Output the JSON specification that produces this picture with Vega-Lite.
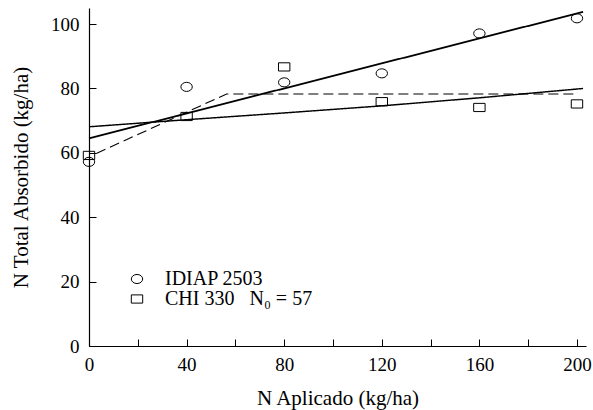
{
  "$schema": "https://vega.github.io/schema/vega-lite/v6.json",
  "width": 497,
  "height": 338,
  "autosize": "none",
  "padding": {"left": 89, "top": 8, "right": 7, "bottom": 64},
  "background": "white",
  "config": {
    "view": {"stroke": null},
    "font": "Times New Roman, Liberation Serif, serif",
    "axis": {
      "grid": false,
      "labelFlush": false,
      "domainColor": "black",
      "domainWidth": 1.2,
      "tickColor": "black",
      "tickWidth": 1,
      "labelColor": "black",
      "labelFont": "Times New Roman, Liberation Serif, serif",
      "labelFontSize": 19,
      "titleFont": "Times New Roman, Liberation Serif, serif",
      "titleFontSize": 21,
      "titleFontWeight": "normal",
      "titleColor": "black"
    },
    "legend": {
      "labelFont": "Times New Roman, Liberation Serif, serif",
      "labelFontSize": 20,
      "labelColor": "black"
    }
  },
  "datasets": {
    "points": [
      {"n": 0, "total": 57.2, "variety": "IDIAP 2503"},
      {"n": 40, "total": 80.5, "variety": "IDIAP 2503"},
      {"n": 80, "total": 81.9, "variety": "IDIAP 2503"},
      {"n": 120, "total": 84.7, "variety": "IDIAP 2503"},
      {"n": 160, "total": 97.1, "variety": "IDIAP 2503"},
      {"n": 200, "total": 101.8, "variety": "IDIAP 2503"},
      {"n": 0, "total": 59.2, "variety": "CHI 330"},
      {"n": 40, "total": 71.3, "variety": "CHI 330"},
      {"n": 80, "total": 86.7, "variety": "CHI 330"},
      {"n": 120, "total": 75.9, "variety": "CHI 330"},
      {"n": 160, "total": 74.1, "variety": "CHI 330"},
      {"n": 200, "total": 75.2, "variety": "CHI 330"}
    ],
    "curves": [
      {"n": 0, "total": 64.5, "curve": "IDIAP linear"},
      {"n": 202.5, "total": 103.8, "curve": "IDIAP linear"},
      {"n": 0, "total": 68.1, "curve": "CHI quadratic"},
      {"n": 40, "total": 70.3, "curve": "CHI quadratic"},
      {"n": 80, "total": 72.4, "curve": "CHI quadratic"},
      {"n": 120, "total": 74.6, "curve": "CHI quadratic"},
      {"n": 160, "total": 77.1, "curve": "CHI quadratic"},
      {"n": 202.5, "total": 80.0, "curve": "CHI quadratic"},
      {"n": 3, "total": 59.8, "curve": "CHI plateau"},
      {"n": 56.4, "total": 78.3, "curve": "CHI plateau"},
      {"n": 200, "total": 78.3, "curve": "CHI plateau"}
    ]
  },
  "layer": [
    {
      "data": {"name": "curves"},
      "mark": {"type": "line", "color": "black"},
      "encoding": {
        "x": {
          "field": "n", "type": "quantitative",
          "scale": {"domain": [0, 203.7], "nice": false, "zero": false},
          "axis": {
            "title": "N Aplicado (kg/ha)",
            "values": [0, 20, 40, 60, 80, 100, 120, 140, 160, 180, 200],
            "labelExpr": "datum.value % 40 == 0 ? datum.label : ''",
            "tickSize": -7,
            "labelPadding": 16,
            "titlePadding": 13
          }
        },
        "y": {
          "field": "total", "type": "quantitative",
          "scale": {"domain": [0, 105], "nice": false},
          "axis": {
            "title": "N Total Absorbido (kg/ha)",
            "values": [0, 10, 20, 30, 40, 50, 60, 70, 80, 90, 100],
            "labelExpr": "datum.value % 20 == 0 ? datum.label : ''",
            "tickSize": -7,
            "labelPadding": 17,
            "titlePadding": 19
          }
        },
        "detail": {"field": "curve"},
        "strokeDash": {
          "field": "curve", "type": "nominal",
          "scale": {"domain": ["IDIAP linear", "CHI quadratic", "CHI plateau"], "range": [[1, 0], [1, 0], [10, 5]]},
          "legend": null
        },
        "strokeWidth": {
          "field": "curve", "type": "nominal",
          "scale": {"domain": ["IDIAP linear", "CHI quadratic", "CHI plateau"], "range": [1.8, 1.1, 1.1]},
          "legend": null
        }
      }
    },
    {
      "data": {"name": "points"},
      "mark": {"type": "point", "filled": false, "color": "black", "strokeWidth": 1, "size": 130, "opacity": 1},
      "encoding": {
        "x": {"field": "n", "type": "quantitative"},
        "y": {"field": "total", "type": "quantitative"},
        "shape": {
          "field": "variety", "type": "nominal",
          "scale": {"domain": ["IDIAP 2503", "CHI 330"], "range": ["M-1,0A1,0.8 0 1,0 1,0A1,0.8 0 1,0 -1,0Z", "M-1,-0.72H1V0.72H-1Z"]},
          "legend": {
            "title": null,
            "orient": "none",
            "legendX": 38,
            "legendY": 261,
            "symbolStrokeColor": "black",
            "symbolFillColor": "transparent",
            "symbolStrokeWidth": 1,
            "symbolSize": 130,
            "labelOffset": 18,
            "rowPadding": 0,
            "labelExpr": "datum.label == 'CHI 330' ? 'CHI 330\u00a0\u00a0\u00a0N\u2080 = 57' : datum.label"
          }
        }
      }
    }
  ]
}
